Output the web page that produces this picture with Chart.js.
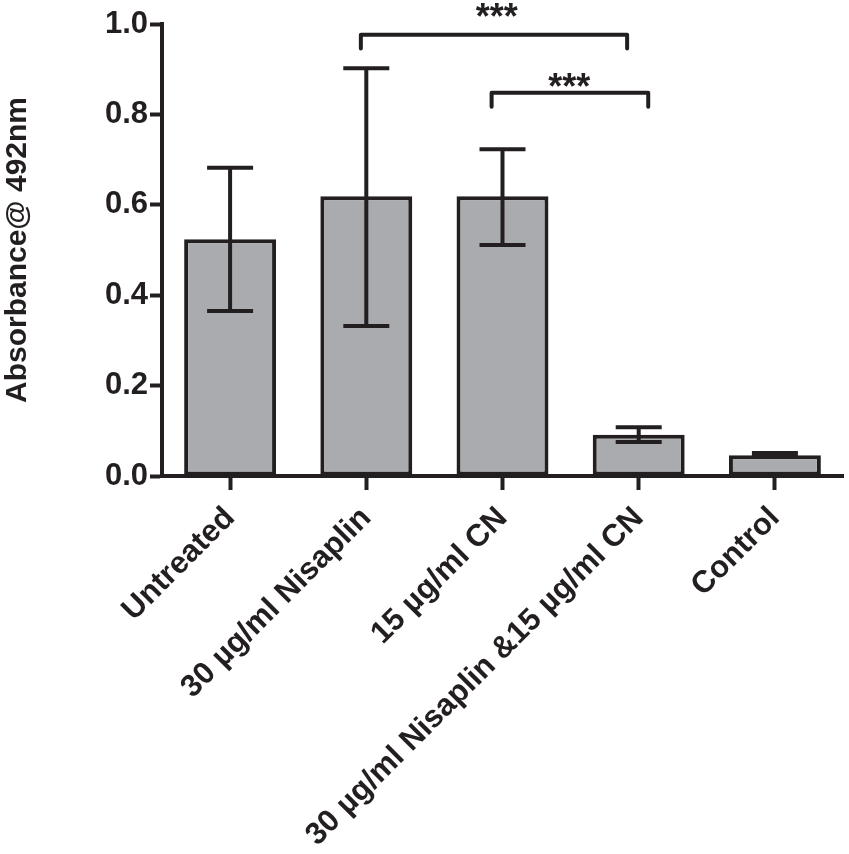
<!DOCTYPE html>
<html>
<head>
<meta charset="utf-8">
<script src="https://cdn.jsdelivr.net/npm/chart.js"></script>
<style>
  html, body { margin: 0; padding: 0; background: #fff; }
  #wrap { width: 849px; height: 854px; }
</style>
</head>
<body>
<div id="wrap">
  <canvas id="absChart" width="849" height="854"></canvas>
</div>

<script>
  const categories = ['Untreated', '30 µg/ml Nisaplin', '15 µg/ml CN', '30 µg/ml Nisaplin &15 µg/ml CN', 'Control'];
  const means = [0.524, 0.619, 0.619, 0.091, 0.046];
  const errHigh = [0.682, 0.902, 0.723, 0.108, 0.051];
  const errLow = [0.365, 0.332, 0.511, 0.075, 0.042];
  const yTicks = [0, 0.2, 0.4, 0.6, 0.8, 1.0];

  // significance brackets (category positions, y values)
  const bracketFrom = [0.96, 1.92];
  const bracketTo = [2.915, 3.07];
  const bracketY = [0.976, 0.848];
  const bracketDrop = [0.03, 0.031];
  const starX = [1.958, 2.49];
  const starY = [1.024, 0.869];
  const starText = ['***', '***'];

  const ink = '#231f20';
  const font = '"Liberation Sans", Arial, sans-serif';

  const extras = {
    id: 'extras',
    afterDatasetsDraw(chart) {
      const c = chart.ctx, x = chart.scales.x, y = chart.scales.y;
      c.save();
      c.strokeStyle = ink;
      c.lineWidth = 4;
      c.lineCap = 'butt';
      // error bars
      means.forEach((m, i) => {
        const px = x.getPixelForValue(i);
        const hi = y.getPixelForValue(errHigh[i]);
        const lo = y.getPixelForValue(errLow[i]);
        c.beginPath();
        c.moveTo(px, hi); c.lineTo(px, lo);
        c.moveTo(px - 23, hi); c.lineTo(px + 23, hi);
        c.moveTo(px - 23, lo); c.lineTo(px + 23, lo);
        c.stroke();
      });
      // brackets
      c.lineCap = 'round';
      c.lineJoin = 'round';
      bracketFrom.forEach((f, i) => {
        const x1 = x.getPixelForValue(f), x2 = x.getPixelForValue(bracketTo[i]);
        const yb = y.getPixelForValue(bracketY[i]);
        const yd = y.getPixelForValue(bracketY[i] - bracketDrop[i]);
        c.beginPath();
        c.moveTo(x1, yd); c.lineTo(x1, yb); c.lineTo(x2, yb); c.lineTo(x2, yd);
        c.stroke();
      });
      // stars
      c.fillStyle = ink;
      c.font = 'bold 36px ' + font;
      c.textAlign = 'center';
      c.textBaseline = 'alphabetic';
      starText.forEach((t, i) => {
        c.fillText(t, x.getPixelForValue(starX[i]), y.getPixelForValue(starY[i]) + 16);
      });
      c.restore();
    }
  };

  new Chart(document.getElementById('absChart'), {
    type: 'bar',
    data: {
      labels: categories,
      datasets: [{
        data: means,
        backgroundColor: '#aaabaf',
        borderColor: ink,
        borderWidth: 4,
        borderSkipped: false,
        categoryPercentage: 1,
        barPercentage: 0.675
      }]
    },
    options: {
      responsive: false,
      animation: false,
      devicePixelRatio: 1,
      layout: { padding: { top: 24, right: 6, left: 0, bottom: 0 } },
      plugins: {
        legend: { display: false },
        tooltip: { enabled: false }
      },
      scales: {
        x: {
          grid: { display: true, drawOnChartArea: false, offset: false, color: ink, tickLength: 14, tickWidth: 4 },
          border: { display: true, color: ink, width: 4 },
          ticks: {
            color: ink, autoSkip: false, maxRotation: 45, minRotation: 45, padding: 10,
            font: { family: font, size: 31, weight: 'bold' }
          },
          afterFit(s) { s.height = 378; }
        },
        y: {
          min: 0, max: 1.0,
          afterBuildTicks(s) { s.ticks = yTicks.map(v => ({ value: v })); },
          grid: { display: true, drawOnChartArea: false, color: ink, tickLength: 12, tickWidth: 4 },
          border: { display: true, color: ink, width: 4 },
          ticks: {
            color: ink, padding: 2,
            font: { family: font, size: 31, weight: 'bold' },
            callback: v => v.toFixed(1)
          },
          title: {
            display: true, text: 'Absorbance@ 492nm', color: ink, padding: { top: 0, bottom: 0 },
            font: { family: font, size: 30, weight: 'bold' }
          },
          afterFit(s) { s.width = 162; }
        }
      }
    },
    plugins: [extras]
  });
</script>
</body>
</html>
